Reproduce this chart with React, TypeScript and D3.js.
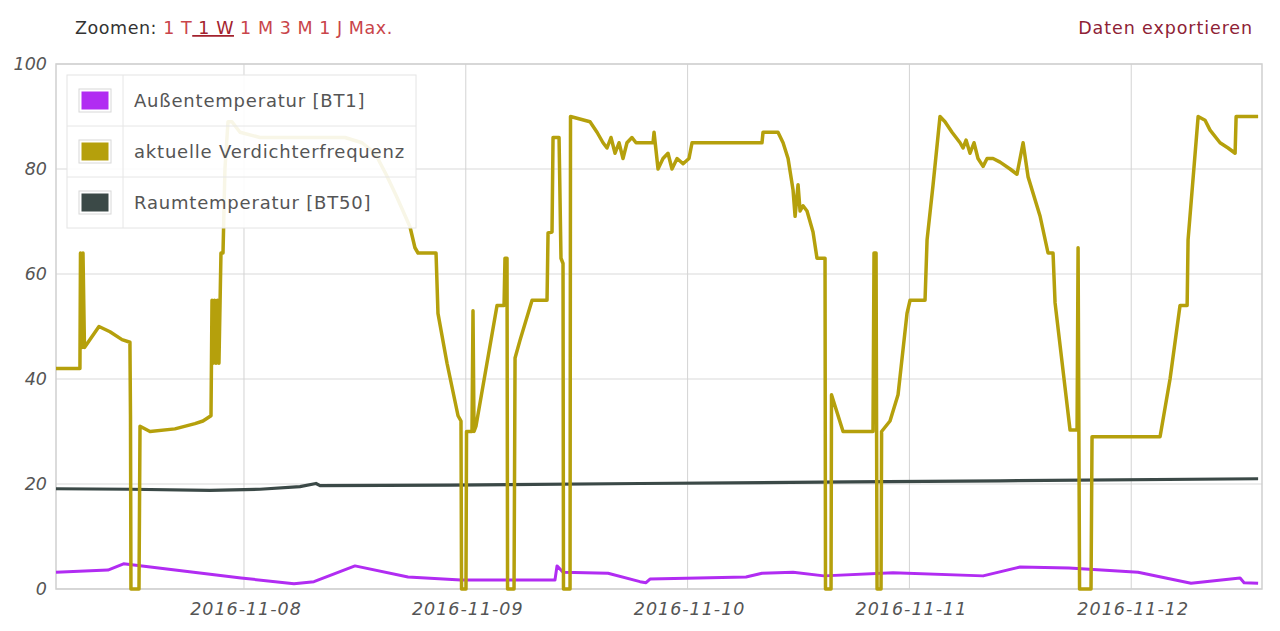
import React from "react";
import * as d3 from "d3";

// Hours since 2016-11-07 00:00 and values
const freqHours = [3.66, 6.25, 6.31, 6.47, 6.58, 6.74, 8.31, 9.5, 10.8, 11.66, 11.72, 11.77, 12.64, 12.75, 13.83, 16.53, 18.7, 19.56, 20.43, 20.54, 20.65, 20.81, 20.97, 21.13, 21.29, 21.51, 21.73, 21.94, 22.27, 22.7, 23.57, 25.73, 30.06, 34.93, 36.77, 38.18, 39.37, 40.45, 41.96, 42.5, 42.83, 44.78, 44.99, 45.97, 47.16, 47.48, 47.54, 48.02, 48.08, 48.67, 48.78, 48.89, 49.1, 51.38, 52.14, 52.24, 52.46, 52.52, 53.22, 53.33, 53.87, 55.17, 56.79, 56.9, 57.33, 57.44, 58.09, 58.3, 58.52, 58.57, 59.28, 59.33, 61.44, 62.2, 62.85, 63.28, 63.71, 64.15, 64.58, 65.01, 65.44, 65.98, 66.42, 68.26, 68.37, 68.8, 69.34, 69.88, 70.31, 70.86, 71.51, 72.15, 72.48, 80.05, 80.16, 81.78, 82.33, 82.87, 83.41, 83.63, 83.95, 84.17, 84.49, 84.92, 85.57, 86.0, 86.87, 86.92, 87.52, 87.57, 88.82, 92.06, 92.17, 92.39, 92.5, 92.93, 92.99, 93.9, 94.77, 95.74, 96.07, 97.69, 97.91, 98.56, 99.31, 99.85, 100.61, 101.48, 101.8, 102.13, 102.56, 102.99, 103.42, 103.97, 104.4, 105.05, 105.81, 106.89, 107.64, 108.3, 108.84, 110.14, 111.0, 111.54, 111.76, 113.38, 114.14, 114.25, 114.41, 115.65, 115.76, 123.12, 124.2, 125.28, 126.05, 126.15, 127.24, 127.99, 128.53, 129.61, 130.48, 131.24, 131.35, 133.73];
const freqValues = [42, 42, 64, 46, 64, 46, 50, 49, 47.5, 47, 33, 0, 0, 31, 30, 30.5, 31.5, 32, 33, 55, 43, 55, 43, 55, 43, 64, 64, 80, 89, 89, 87, 86, 86, 86, 85, 83, 79, 75, 69, 65, 64, 64, 52.5, 43, 33, 32, 0, 0, 30, 30, 53, 30, 31, 54, 54, 63, 63, 0, 0, 44, 47.4, 55, 55, 67.8, 68, 86, 86, 63, 62, 0, 0, 90, 89, 87, 85, 84, 86, 83, 85, 82, 85, 86, 85, 85, 87, 80, 82, 83, 80, 82, 81, 82, 85, 85, 87, 87, 85, 82, 76, 71, 77, 72, 73, 72, 68, 63, 63, 0, 0, 37, 30, 30, 64, 64, 0, 0, 30, 32, 37, 52.5, 55, 55, 66.5, 77, 90, 89, 87, 85, 84, 85.5, 83, 85, 82, 80.5, 82, 82, 81.3, 80, 79, 85, 78.5, 71, 64, 64, 54.5, 30.3, 30.3, 65, 0, 0, 29, 29, 40, 54, 54, 66.5, 90, 89.3, 87.4, 85, 84, 83, 90, 90];

const outdoorHours = [3.66, 9.28, 10.97, 23.68, 29.41, 31.57, 36.01, 41.75, 47.48, 57.65, 57.87, 58.52, 63.39, 66.85, 67.5, 67.93, 78.32, 80.05, 83.41, 86.76, 94.23, 103.97, 107.97, 113.27, 120.74, 126.47, 131.78, 132.21, 133.73];
const outdoorValues = [3.2, 3.6, 4.8, 2.1, 1.0, 1.4, 4.4, 2.3, 1.7, 1.7, 4.4, 3.2, 3.0, 1.4, 1.2, 1.9, 2.3, 3.0, 3.2, 2.5, 3.1, 2.5, 4.2, 4.0, 3.2, 1.1, 2.1, 1.2, 1.1];

const roomHours = [3.66, 11.66, 20.32, 25.73, 30.06, 31.79, 32.23, 46.29, 66.85, 89.58, 105.81, 133.73];
const roomValues = [19.1, 19.0, 18.8, 19.0, 19.5, 20.1, 19.7, 19.8, 20.1, 20.4, 20.6, 21.0];

const seriesNames = ["Außentemperatur [BT1]", "aktuelle Verdichterfrequenz", "Raumtemperatur [BT50]"];
const seriesColors = ["#b12cf2", "#b5a00c", "#3b4947"];
const yTicks = [0, 20, 40, 60, 80, 100];
const zoomLinks = ["1 T", "1 W", "1 M", "3 M", "1 J", "Max."];

const BASE = new Date(2016, 10, 7, 0, 0, 0).getTime();
const toDate = (h: number) => new Date(BASE + h * 3600 * 1000);
const DOMAIN_START_H = 3.66;
const DOMAIN_END_H = 134.15;

export default function App() {
  const W = 1280, H = 631;
  const left = 56, right = 1262, top = 64, bottom = 589;
  const x = d3.scaleTime().domain([toDate(DOMAIN_START_H), toDate(DOMAIN_END_H)]).range([left, right]);
  const y = d3.scaleLinear().domain([0, 100]).range([bottom, top]);
  const dayTicks = d3.timeDay.range(toDate(DOMAIN_START_H), toDate(DOMAIN_END_H));
  const fmt = d3.timeFormat("%Y-%m-%d");

  const mk = (hs: number[], vs: number[]) => hs.map((h, i) => [toDate(h), vs[i]] as [Date, number]);
  const line = d3.line<[Date, number]>().x(d => x(d[0])).y(d => y(d[1]));
  const outdoor = mk(outdoorHours, outdoorValues);
  const freq = mk(freqHours, freqValues);
  const room = mk(roomHours, roomValues);

  const font = "'DejaVu Sans', Verdana, sans-serif";
  const legX = 67, legY = 75, legW = 349, rowH = 51;

  return (
    <svg width={W} height={H} style={{ position: "absolute", left: 0, top: 0, background: "#fff" }} fontFamily={font}>
      <rect x={0} y={0} width={W} height={H} fill="#fff" />
      {/* header */}
      <text x={75} y={34} fontSize={17.5} fill="#333" letterSpacing={0.55}>
        Zoomen:
        {zoomLinks.map((z, i) => (
          <tspan key={z} fill={i === 1 ? "#a3222e" : "#c9454a"} textDecoration={i === 1 ? "underline" : undefined}>{" " + z}</tspan>
        ))}
      </text>
      <text x={1253} y={34} fontSize={17.5} fill="#8e2236" textAnchor="end" letterSpacing={0.9}>Daten exportieren</text>

      {/* grid */}
      {yTicks.map(t => (
        <line key={"gy" + t} x1={left} x2={right} y1={y(t)} y2={y(t)} stroke="#d9d9d9" strokeWidth={1} />
      ))}
      {dayTicks.map(d => (
        <line key={"gx" + d.getTime()} x1={x(d)} x2={x(d)} y1={top} y2={bottom} stroke="#d3d3d3" strokeWidth={1} />
      ))}
      <rect x={left} y={top} width={right - left} height={bottom - top} fill="none" stroke="#cfcfcf" strokeWidth={1.5} />

      {/* y labels */}
      {yTicks.map(t => (
        <text key={"ly" + t} x={47} y={y(t)} dy="0.33em" textAnchor="end" fontSize={17.5} fontStyle="italic" fill="#555">{t}</text>
      ))}
      {/* x labels */}
      {dayTicks.map(d => (
        <text key={"lx" + d.getTime()} x={x(d) + 2} y={615} textAnchor="middle" fontSize={17.5} fontStyle="italic" fill="#555" letterSpacing={1}>{fmt(d)}</text>
      ))}

      {/* series */}
      <path d={line(room) || ""} fill="none" stroke={seriesColors[2]} strokeWidth={3.2} strokeLinejoin="round" />
      <path d={line(outdoor) || ""} fill="none" stroke={seriesColors[0]} strokeWidth={3} strokeLinejoin="round" />
      <path d={line(freq) || ""} fill="none" stroke={seriesColors[1]} strokeWidth={3.5} strokeLinejoin="round" />

      {/* legend */}
      <g>
        <rect x={legX} y={legY} width={legW} height={rowH * 3} fill="#fff" fillOpacity={0.9} stroke="#e4e4e4" strokeWidth={1} />
        {seriesNames.map((n, i) => (
          <g key={n}>
            {i > 0 && <line x1={legX} x2={legX + legW} y1={legY + rowH * i} y2={legY + rowH * i} stroke="#e6e6e6" />}
            <rect x={79} y={legY + rowH * i + 14} width={32} height={23} fill="#fff" stroke="#d8d8d8" />
            <rect x={81.5} y={legY + rowH * i + 16.5} width={27} height={18} fill={seriesColors[i]} />
            <text x={134} y={legY + rowH * i + rowH / 2} dy="0.35em" fontSize={18} fill="#555" letterSpacing={0.8}>{n}</text>
          </g>
        ))}
        <line x1={123} x2={123} y1={legY} y2={legY + rowH * 3} stroke="#e6e6e6" />
      </g>
    </svg>
  );
}
